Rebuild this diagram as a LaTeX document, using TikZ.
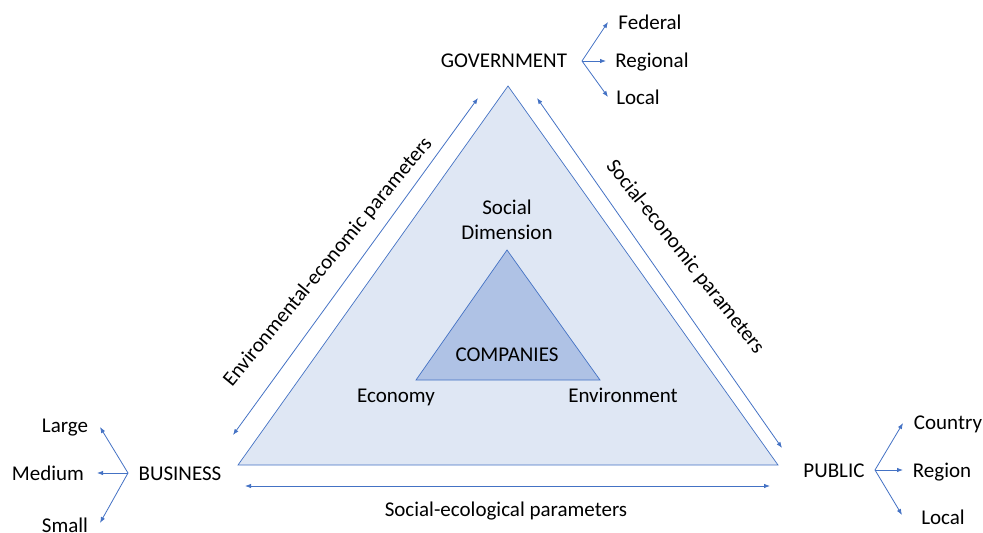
\documentclass[tikz,border=0pt]{standalone}
\usepackage{fontspec}
\setmainfont{Carlito}
\usetikzlibrary{arrows.meta}
\definecolor{lnblue}{HTML}{4472C4}
\definecolor{outerfill}{HTML}{DFE7F4}
\definecolor{innerfill}{HTML}{AFC2E5}
\begin{document}
\begin{tikzpicture}[x=1pt,y=-1pt,
  every node/.style={font=\fontsize{21}{24}\selectfont, inner sep=0pt, text height=14pt, text depth=0pt, anchor=center},
  arr/.style={lnblue, line width=0.8pt, -{Latex[length=6pt,width=4.5pt]}},
  darr/.style={lnblue, line width=0.8pt, {Latex[length=6pt,width=4.5pt]}-{Latex[length=6pt,width=4.5pt]}},
  tri/.style={draw=lnblue, line width=0.7pt}]
\useasboundingbox (0,0) rectangle (983,533);
% outer triangle
\coordinate (oA) at (508,86);
\coordinate (oB) at (238,465);
\coordinate (oC) at (778,465);
\draw[tri, fill=outerfill] (oA) -- (oB) -- (oC) -- cycle;
% inner triangle
\coordinate (iA) at (507,250);
\coordinate (iB) at (416,380);
\coordinate (iC) at (600,380);
\draw[tri, fill=innerfill] (iA) -- (iB) -- (iC) -- cycle;
% inner texts
\node (social) at (507,207) {Social};
\node (dimension) at (507,232) {Dimension};
\node (companies) at (507,354) {COMPANIES};
\node (economy) at (396,395) {Economy};
\node (environment) at (623,395) {Environment};
% side double arrows
\coordinate (lA) at (233,435);
\coordinate (lB) at (478,98);
\draw[darr] (lA) -- (lB);
\coordinate (rA) at (537,98);
\coordinate (rB) at (782,448);
\draw[darr] (rA) -- (rB);
\coordinate (bA) at (245,486);
\coordinate (bB) at (770,486);
\draw[darr] (bA) -- (bB);
\node[rotate=50.5] (envecon) at (327,261) {Environmental-economic parameters};
\node[rotate=-51.5] (socecon) at (686,256) {Social-economic parameters};
\node (socecol) at (506,509) {Social-ecological parameters};
% government
\node (gov) at (504,60) {GOVERNMENT};
\coordinate (gv) at (582,61);
\node (federal) at (650,22) {Federal};
\node (regional) at (652,60) {Regional};
\node (glocal) at (638,97) {Local};
\coordinate (fedt) at (608,22);
\coordinate (regt) at (606,61);
\coordinate (glot) at (608,97);
\draw[arr] (gv) -- (fedt);
\draw[arr] (gv) -- (regt);
\draw[arr] (gv) -- (glot);
% business
\node (business) at (180,473) {BUSINESS};
\coordinate (bv) at (128,473);
\node (large) at (65,425) {Large};
\node (medium) at (48,473) {Medium};
\node (small) at (65,525) {Small};
\coordinate (lart) at (100,427);
\coordinate (medt) at (97,473);
\coordinate (smat) at (100,523);
\draw[arr] (bv) -- (lart);
\draw[arr] (bv) -- (medt);
\draw[arr] (bv) -- (smat);
% public
\node (public) at (834,470) {PUBLIC};
\coordinate (pv) at (875,470);
\node (country) at (948,422) {Country};
\node (region) at (942,470) {Region};
\node (plocal) at (943,517) {Local};
\coordinate (cout) at (903,423);
\coordinate (regnt) at (903,470);
\coordinate (plot) at (902,515);
\draw[arr] (pv) -- (cout);
\draw[arr] (pv) -- (regnt);
\draw[arr] (pv) -- (plot);
\end{tikzpicture}
\end{document}
